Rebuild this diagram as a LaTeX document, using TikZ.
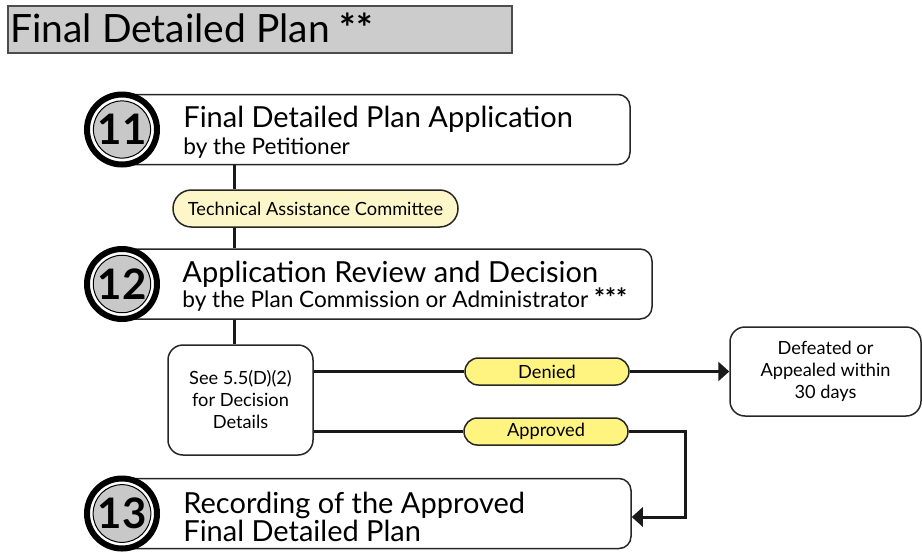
\documentclass[tikz,border=0pt]{standalone}
\usepackage{fontspec}
\setmainfont{Lato}
\usetikzlibrary{arrows.meta}
\definecolor{titlegray}{HTML}{CCCCCC}
\definecolor{numgray}{HTML}{C8C8C8}
\definecolor{tacyellow}{HTML}{FDF6C8}
\definecolor{tagyellow}{HTML}{FFF47F}
\newcommand{\bigfont}{\fontsize{14.5}{16}\selectfont}
\newcommand{\subfont}{\fontsize{11.3}{13}\selectfont}
\newcommand{\tagfont}{\fontsize{9.1}{11}\selectfont}
\begin{document}
\begin{tikzpicture}[x=0.5pt,y=-0.5pt]
      \useasboundingbox (0,0) rectangle (922,553);
      % title bar
      \node[draw=black!70,line width=0.6pt,fill=titlegray,minimum width=252pt,minimum height=23.5pt,inner sep=0pt] (title) at (260,29.5) {};
      \node[anchor=base west,inner sep=0pt,font=\fontsize{19.5}{22}\selectfont] (titletext) at (10,42) {Final Detailed Plan \textbf{**}};
      % step boxes
      \begin{scope}[every node/.style={draw=black!85,line width=0.75pt,rounded corners=6pt,minimum height=35pt,inner sep=0pt}]
        \node[minimum width=254pt] (s11) at (376,129.5) {};
        \node[minimum width=265pt] (s12) at (387,284) {};
        \node[minimum width=254.5pt] (s13) at (376.5,513.5) {};
      \end{scope}
      % step numbers
      \begin{scope}[every node/.style={circle,inner sep=0pt}]
        \node[draw,line width=3pt,fill=white,minimum size=35pt] (r11) at (122,129.5) {};
        \node[draw,line width=3pt,fill=white,minimum size=35pt] (r12) at (122,284) {};
        \node[draw,line width=3pt,fill=white,minimum size=35pt] (r13) at (122,513.5) {};
      \end{scope}
      \begin{scope}[every node/.style={circle,draw,line width=0.5pt,fill=numgray,minimum size=28pt,inner sep=0pt,font=\bfseries\fontsize{21}{21}\selectfont}]
        \node (n11) at (122,129.5) {11};
        \node (n12) at (122,284) {12};
        \node (n13) at (122,513.5) {13};
      \end{scope}
      % step texts
      \begin{scope}[every node/.style={anchor=base west,inner sep=0pt}]
        \node[font=\bigfont] (t11) at (183,127) {Final Detailed Plan Application};
        \node[font=\subfont] (b11) at (183,154) {by the Petitioner};
        \node[font=\bigfont] (t12) at (182,282) {Application Review and Decision};
        \node[font=\subfont] (b12) at (182,307) {by the Plan Commission or Administrator {\bfseries\fontsize{13}{13}\selectfont ***}};
        \node[font=\bigfont] (t13) at (183,513) {Recording of the Approved};
        \node[font=\bigfont] (b13) at (183,541) {Final Detailed Plan};
      \end{scope}
      % tags
      \begin{scope}[every node/.style={draw=black!85,line width=0.75pt,inner sep=0pt,font=\tagfont}]
        \node[fill=tacyellow,minimum width=142.5pt,minimum height=18.5pt,rounded corners=9.2pt] (tac) at (315.5,208.5) {Technical Assistance Committee};
        \node[fill=tagyellow,minimum width=82pt,minimum height=13.5pt,rounded corners=6.7pt] (denied) at (547,371.5) {Denied};
        \node[fill=tagyellow,minimum width=82pt,minimum height=13.5pt,rounded corners=6.7pt] (approved) at (546,431.5) {Approved};
        \node[fill=white,align=center,rounded corners=7.5pt,minimum width=72.5pt,minimum height=55pt] (dec) at (240.5,400) {See 5.5(D)(2)\\for Decision\\Details};
        \node[fill=white,align=center,rounded corners=7.5pt,minimum width=95.5pt,minimum height=44.5pt] (defeated) at (825.5,371.5) {Defeated or\\Appealed within\\30 days};
      \end{scope}
      \coordinate (spine) at (234,0);
      \coordinate (turn) at (685,517);
      % connectors
      \begin{scope}[every edge/.style={draw,line width=1.5pt,black!90}]
        \path (s11.south -| spine) edge (tac.north -| spine);
        \path (tac.south -| spine) edge (s12.north -| spine);
        \path (s12.south -| spine) edge (dec.north -| spine);
        \path (dec.east |- denied) edge (denied);
        \path (denied) edge[-{Triangle[length=5.5pt,width=9.5pt]}] (defeated);
        \path (dec.east |- approved) edge (approved);
      \end{scope}
      \draw[line width=1.5pt,black!90,-{Triangle[length=5.5pt,width=9.5pt]}] (approved) -| (turn) -- (s13.east |- turn);
    \end{tikzpicture}
\end{document}
